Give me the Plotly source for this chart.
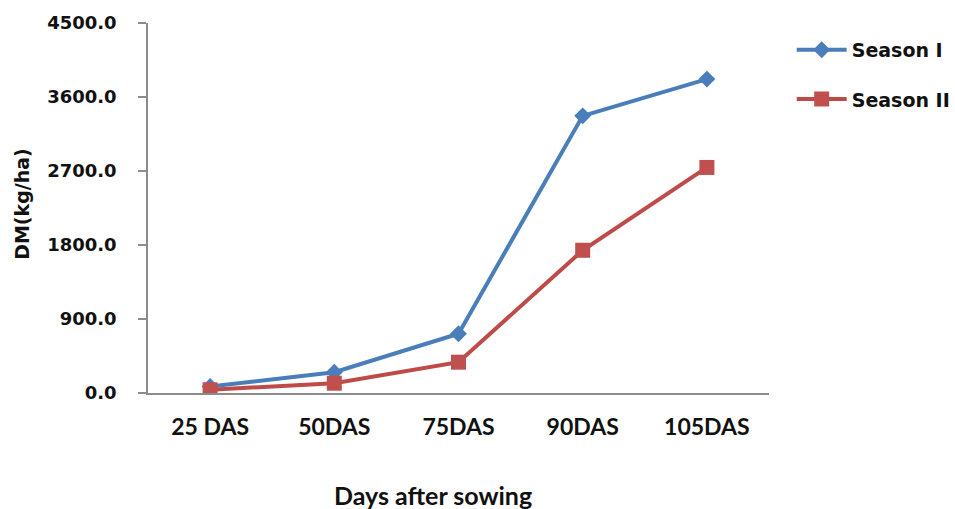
import plotly.graph_objects as go

# Dry matter accumulation over the growing period
stages = ["25 DAS", "50DAS", "75DAS", "90DAS", "105DAS"]
season_1 = [79, 253, 721, 3371, 3818]
season_2 = [39, 119, 375, 1736, 2743]
y_ticks = [0, 900, 1800, 2700, 3600, 4500]
y_tick_text = [f"{v:.1f}" for v in y_ticks]

BLUE_LINE, BLUE_MARK = "#4A7EBB", "#4A7EBB"
RED_LINE, RED_MARK = "#BE4B48", "#C0504D"

fig = go.Figure()
fig.add_trace(go.Scatter(
    x=stages, y=season_1, name="Season I", mode="lines+markers",
    line=dict(color=BLUE_LINE, width=4),
    marker=dict(symbol="diamond", size=13, color=BLUE_MARK),
    legend="legend",
))
fig.add_trace(go.Scatter(
    x=stages, y=season_2, name="Season II", mode="lines+markers",
    line=dict(color=RED_LINE, width=4),
    marker=dict(symbol="square", size=15, color=RED_MARK),
    legend="legend2",
))

legend_font = dict(family="DejaVu Sans", size=19, color="#111111", weight="bold")
legend_common = dict(xref="container", yref="container", xanchor="left",
                     yanchor="middle", font=legend_font,
                     bgcolor="rgba(0,0,0,0)", itemwidth=50)
fig.update_layout(
    width=955, height=509,
    margin=dict(l=148, r=186, t=23, b=116, pad=0, autoexpand=False),
    paper_bgcolor="white", plot_bgcolor="white",
    showlegend=True,
    legend=dict(x=0.829, y=0.902, **legend_common),
    legend2=dict(x=0.829, y=0.805, **legend_common),
    xaxis=dict(
        type="category", range=[-0.5, 4.5],
        showline=True, linecolor="#8C8C8C", linewidth=1.5,
        showgrid=False, zeroline=False, ticks="",
        tickfont=dict(family="Lato", size=23, color="#111111", weight="bold"),
        ticklabelstandoff=13,
    ),
    yaxis=dict(
        range=[0, 4500], tickvals=y_ticks, ticktext=y_tick_text,
        showline=True, linecolor="#8C8C8C", linewidth=1.5,
        showgrid=False, zeroline=False,
        ticks="outside", ticklen=8, tickcolor="#8C8C8C", tickwidth=1.5,
        tickfont=dict(family="DejaVu Sans", size=18, color="#111111", weight="bold"),
        ticklabelstandoff=18,
    ),
    annotations=[
        dict(text="Days after sowing", xref="paper", yref="paper",
             x=0.459, y=-0.276, xanchor="center", yanchor="middle",
             showarrow=False,
             font=dict(family="Lato", size=25, color="#111111", weight="bold")),
        dict(text="DM(kg/ha)", xref="paper", yref="paper",
             x=-0.202, y=0.51, xanchor="center", yanchor="middle",
             textangle=-90, showarrow=False,
             font=dict(family="DejaVu Sans", size=19, color="#111111", weight="bold")),
    ],
)

fig.write_html("out.html")
